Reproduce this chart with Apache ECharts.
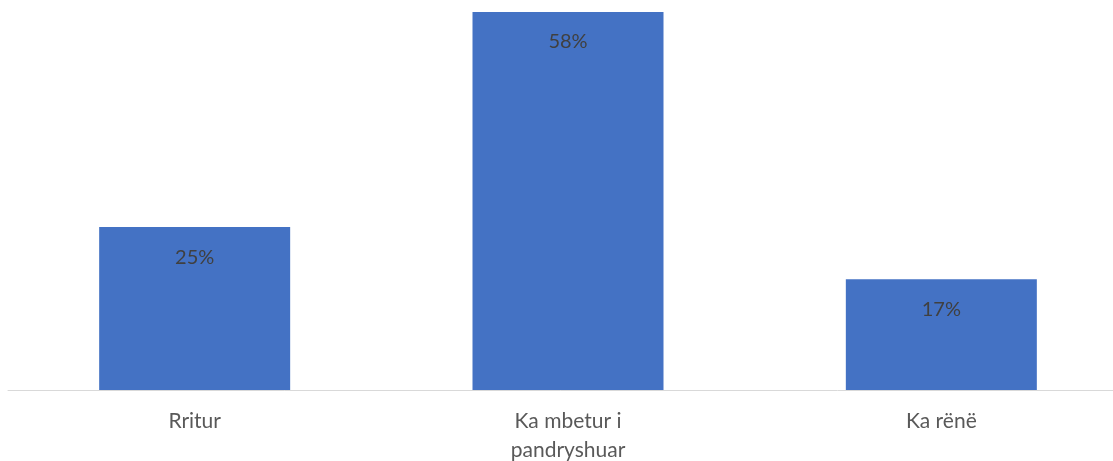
<!DOCTYPE html>
<html><head><meta charset="utf-8">
<script src="https://cdn.jsdelivr.net/npm/echarts@6/dist/echarts.min.js"></script>
<style>html,body{margin:0;padding:0;background:#fff}#c{width:1113px;height:461px}</style>
</head><body><div id="c"></div>
<script>
const categories = ['Rritur', 'Ka mbetur i\npandryshuar', 'Ka rënë'];
const values = [25, 58, 17];
const chart = echarts.init(document.getElementById('c'), null, {renderer: 'canvas'});
chart.setOption({
  animation: false,
  grid: {left: 8, width: 1120, top: 12, height: 378, containLabel: false, outerBoundsMode: 'none'},
  xAxis: {
    type: 'category', data: categories,
    axisLine: {lineStyle: {color: '#d9d9d9', width: 1}},
    axisTick: {show: false},
    axisLabel: {color: '#595959', fontSize: 21, fontFamily: 'Lato', lineHeight: 29, margin: 17, interval: 0}
  },
  yAxis: {type: 'value', min: 0, max: 58, show: false, splitLine: {show: false}},
  series: [{
    type: 'bar', data: values, barWidth: 191,
    itemStyle: {color: '#4472c4'},
    label: {show: true, position: 'insideTop', distance: 20, formatter: '{c}%', color: '#404040', fontSize: 20, fontFamily: 'Lato'}
  }]
});
</script></body></html>
